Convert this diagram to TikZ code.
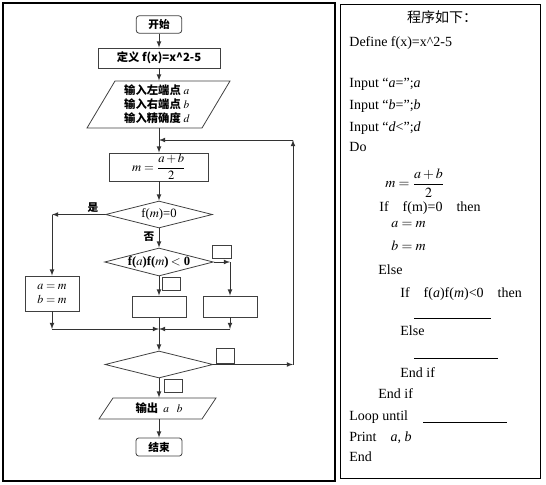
\documentclass[tikz,border=0pt]{standalone}
\usepackage{mathptmx}
\usepackage{fontspec}
\setmainfont{Liberation Serif}
\newfontfamily\cjk{Noto Sans CJK SC}
\usetikzlibrary{arrows,shapes,positioning,calc}

\begin{document}
\begin{tikzpicture}[x=0.75pt,y=-0.75pt,>=latex,line width=0.6pt,
	termbox/.style={draw=black!75,rounded corners=2pt,minimum width=34pt,minimum height=13pt,inner sep=0pt,font=\cjk\bfseries\fontsize{8}{9}\selectfont},
	procbox/.style={draw=black!75,minimum width=40.5pt,minimum height=15.75pt,inner sep=0pt},
	decbox/.style={draw=black!75,diamond,aspect=4,inner sep=0pt,minimum width=80.25pt,minimum height=20.25pt},
	blankbox/.style={draw=black!75,minimum width=13.5pt,minimum height=9.75pt,inner sep=0pt},
	flow/.style={->,black!80},
	cjktext/.style={font=\cjk\bfseries\fontsize{8.5}{10.5}\selectfont},
	codeline/.style={anchor=base west,inner sep=0pt,font=\fontsize{10.5}{12}\selectfont}]
	\useasboundingbox (0,0) rectangle (546,485);
	\draw[line width=1.2pt] (3,3) rectangle (335,481);
	\draw (340,4) rectangle (540,478);
	% flow chart
	\node[termbox] (start) at (159,24.5) {开始};
	\node[procbox,minimum width=91.5pt,minimum height=15pt,cjktext] (def) at (159,58) {定义\ f(x)=x\^{}2-5};
	\node[minimum width=60pt,minimum height=35.25pt,inner sep=0pt,align=left,cjktext] (inp) at (157,104.5) {输入左端点 $a$\\输入右端点 $b$\\输入精确度 $d$};
	\draw[black!75] ([shift={(-42,-23.5)}]inp.center) -- ++(115,0) -- ++(-28,47) -- ++(-115,0) -- cycle;
	\node[procbox,minimum width=74.25pt,minimum height=21pt,font=\fontsize{9.5}{11}\selectfont] (mbox) at (159,167) {$m=\displaystyle\frac{a+b}{2}$};
	\node[decbox,font=\fontsize{9.5}{11}\selectfont] (d1) at (159,214.5) {f($m$)=0};
	\node[decbox,minimum width=79.5pt,minimum height=21pt,font=\fontsize{9.5}{11}\selectfont\bfseries] (d2) at (159,262) {f($a$)f($m$)\,$<$\ 0};
	\node[procbox,minimum height=26.25pt,align=center,font=\fontsize{9}{10.5}\selectfont] (ab) at (52,293.5) {$a=m$\\$b=m$};
	\node[procbox] (lbox) at (159,306.5) {};
	\node[procbox] (rbox) at (230,306.5) {};
	\node[decbox,minimum width=81pt] (d3) at (159,364.5) {};
	\node[minimum width=60pt,minimum height=15.75pt,inner sep=0pt,cjktext] (out) at (159,408.5) {输出\ \ $a$\ \ \ $b$};
	\draw[black!75] ([shift={(-46,-10.5)}]out.center) -- ++(103,0) -- ++(-14,21) -- ++(-103,0) -- cycle;
	\node[termbox,minimum width=34.5pt,minimum height=13.5pt] (stop) at (159,447) {结束};
	% empty answer boxes
	\node[blankbox,minimum width=14.25pt] (bk1) at (221.5,251.5) {};
	\node[blankbox] (bk2) at (171,283.5) {};
	\node[blankbox,minimum height=11.25pt] (bk3) at (225,355.5) {};
	\node[blankbox] (bk4) at (173,385.5) {};
	\node[cjktext,font=\cjk\bfseries\fontsize{8}{9}\selectfont] (shi) at (93,208) {是};
	\node[cjktext,font=\cjk\bfseries\fontsize{8}{9}\selectfont] (fou) at (149,237) {否};
	\coordinate (cyes) at (ab.north |- d1.west);
	\coordinate (cno) at (rbox.north |- d2.east);
	\coordinate (jm) at (159,329);
	\coordinate (jl) at (ab.south |- jm);
	\coordinate (jr) at (rbox.south |- jm);
	\coordinate (lp1) at (293,364.5);
	\coordinate (lp2) at (293,140);
	\coordinate (ret) at (159,140);
	\draw[flow] (start) -- (def);
	\draw[flow] (def) -- (def |- inp.north);
	\draw[flow] (def |- inp.south) -- (mbox);
	\draw[flow] (mbox) -- (d1);
	\draw[flow] (d1) -- (d2);
	\draw[flow] (d2) -- (lbox);
	\draw[flow] (d1.west) -- (cyes);
	\draw[flow] (cyes) -- (ab);
	\draw[flow] (d2.east) -- (cno);
	\draw[flow] (cno) -- (rbox);
	\draw[flow] (ab) -- (jl);
	\draw[flow] (jl) -- (jm);
	\draw[flow] (rbox) -- (jr);
	\draw[flow] (jr) -- (jm);
	\draw[black!80] (lbox) -- (jm);
	\draw[flow] (jm) -- (d3);
	\draw[flow] (d3.east) -- (lp1);
	\draw[flow] (lp1) -- (lp2);
	\draw[flow] (lp2) -- (ret);
	\draw[flow] (d3) -- (out);
	\draw[flow] (out) -- (stop);
	% program text
	\node[font=\cjk\fontsize{10.5}{12}\selectfont] (title) at (442,17) {程序如下：};
	\node[codeline] (l1) at (349,46.5) {Define f(x)=x\^{}2-5};
	\node[codeline] (l2) at (349,87.5) {Input “\textit{a}=”;\textit{a}};
	\node[codeline] (l3) at (349,109.5) {Input “\textit{b}=”;\textit{b}};
	\node[codeline] (l4) at (349,131.5) {Input “\textit{d}<”;\textit{d}};
	\node[codeline] (l5) at (349,151.5) {Do};
	\node[anchor=west,inner sep=0pt,font=\fontsize{10.5}{12}\selectfont] (l6) at (385,183) {$m=\displaystyle\frac{a+b}{2}$};
	\node[codeline] (l7) at (379,211.5) {If\quad f(m)=0\quad then};
	\node[codeline] (l8) at (391,227.5) {$a=m$};
	\node[codeline] (l9) at (391,250.5) {$b=m$};
	\node[codeline] (l10) at (378,274.5) {Else};
	\node[codeline] (l11) at (400,297.5) {If\quad f(\textit{a})f(\textit{m})<0\quad then};
	\draw (414,318) -- (491,318);
	\node[codeline] (l12) at (400,335.5) {Else};
	\draw (414,358) -- (498,358);
	\node[codeline] (l13) at (400,377.5) {End if};
	\node[codeline] (l14) at (378,398.5) {End if};
	\node[codeline] (l15) at (349,420.5) {Loop until};
	\draw (423,422) -- (507,422);
	\node[codeline] (l16) at (349,441.5) {Print\quad \textit{a}, \textit{b}};
	\node[codeline] (l17) at (349,461.5) {End};
\end{tikzpicture}
\end{document}
